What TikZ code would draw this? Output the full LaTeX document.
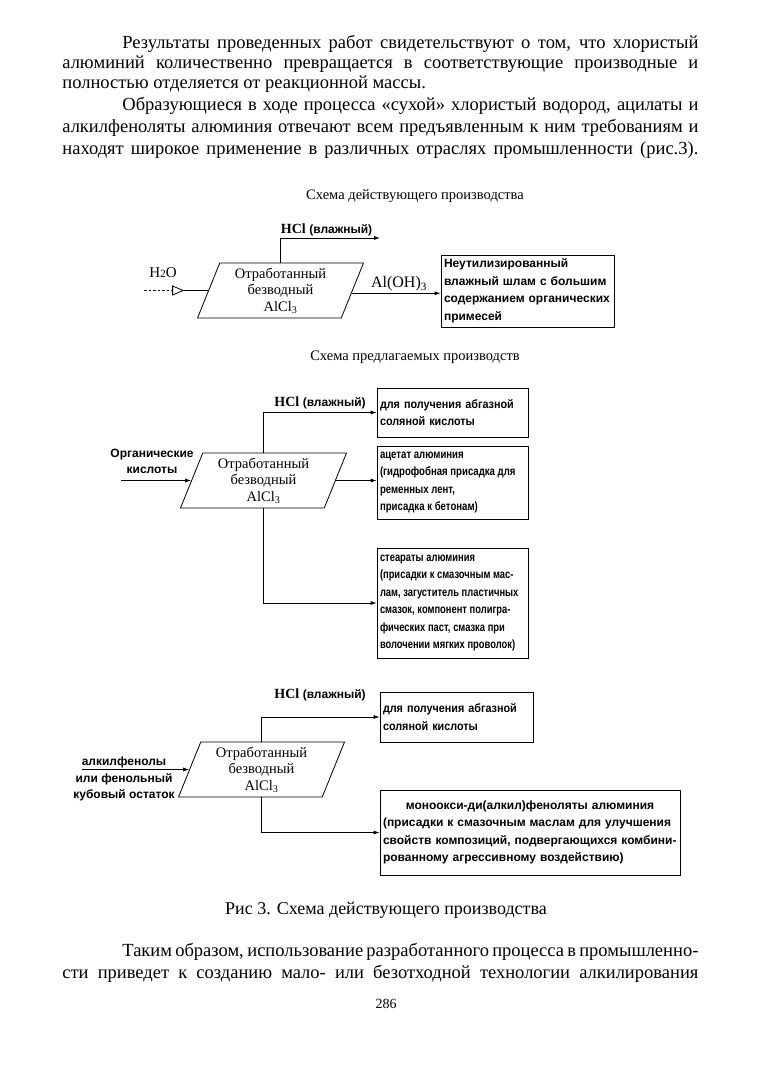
\documentclass[tikz,border=0pt]{standalone}
\usepackage{fontspec}
\setmainfont{Liberation Serif}
\newfontfamily\boxfont{Liberation Sans}
\newfontfamily\boxfonta[FakeStretch=0.9]{Liberation Sans}
\newfontfamily\boxfontn[FakeStretch=0.8]{Liberation Sans}
\newfontfamily\boxfontc[FakeStretch=0.78]{Liberation Sans}
\usetikzlibrary{shapes.geometric,arrows.meta,calc,positioning}
\tikzset{
  bodyline/.style={anchor=base west,inner sep=0pt,font=\fontsize{18.5}{21}\selectfont},
  schemetitle/.style={inner sep=0pt,font=\fontsize{14.5}{17}\selectfont},
  vessel/.style={draw,trapezium,trapezium left angle=64,trapezium right angle=116,
    trapezium stretches body,minimum width=166pt,minimum height=55pt,inner sep=0pt,
    align=center,font=\fontsize{14.5}{16.5}\selectfont},
  product/.style={draw,align=left,inner sep=3pt,font=\boxfont\bfseries\fontsize{12}{17.5}\selectfont},
  feed/.style={align=center,inner sep=0pt,font=\boxfont\bfseries\fontsize{12}{16.5}\selectfont},
  hcllabel/.style={inner sep=0pt,font=\bfseries\fontsize{14}{16}\selectfont},
  flow/.style={-{Latex[length=6pt,width=4pt]}}
}
\newcommand{\wet}{{\boxfont\fontsize{12}{14}\selectfont(влажный)}}
\newcommand{\narrowgap}{\spaceskip=2.7pt\relax}
\begin{document}
\begin{tikzpicture}[x=1pt,y=-1pt,line width=0.8pt]
  \fill[white] (0,0) rectangle (773,1078);
  \useasboundingbox (0,0) rectangle (773,1078);
  % text above the figure
  \node[bodyline] (l1) at (122,48.5) {\makebox[576pt][s]{Результаты проведенных работ свидетельствуют о том, что хлористый}};
  \node[bodyline] (l2) at (62,68.5) {\makebox[636pt][s]{алюминий количественно превращается в соответствующие производные и}};
  \node[bodyline] (l3) at (62,88.5) {полностью отделяется от реакционной массы.};
  \node[bodyline] (l4) at (122,111) {\makebox[576pt][s]{Образующиеся в ходе процесса «сухой» хлористый водород, ацилаты и}};
  \node[bodyline] (l5) at (62,133) {\makebox[636pt][s]{алкилфеноляты алюминия отвечают всем предъявленным к ним требованиям и}};
  \node[bodyline] (l6) at (62,155) {\makebox[636pt][s]{находят широкое применение в различных отраслях промышленности (рис.3).}};
  % existing plant
  \node[schemetitle] (t1) at (415,196) {Схема действующего производства};
  \node[vessel] (p1) at (280.5,290.5) {Отработанный\\безводный\\AlCl\textsubscript{3}};
  \node[product,text width=167pt,minimum height=72pt] (b1) at (527.5,291)
    {Неутилизированный\\влажный шлам с большим\\содержанием органических\\примесей};
  \coordinate (h2o start) at ([xshift=-64pt]p1.west);
  \coordinate (h2o tip) at ([xshift=-24pt]p1.west);
  \draw[dashed,dash pattern=on 2.5pt off 2pt,-{Triangle[open,length=12pt,width=10pt]}] (h2o start) -- (h2o tip);
  \draw (h2o tip) -- (p1.west);
  \node[inner sep=0pt,font=\fontsize{15}{17}\selectfont] (h2o) at (163,273) {H{\fontsize{11}{11}\selectfont 2}O};
  \coordinate (p1 out) at ($(p1.bottom right corner)!0.45!(p1.top right corner)$);
  \draw[flow] (p1 out) -- (p1 out -| b1.west);
  \node[inner sep=0pt,font=\fontsize{16}{18}\selectfont] (aloh) at (399,284) {Al(OH)\textsubscript{3}};
  \coordinate (hcl1) at (380,238);
  \draw[flow] (p1.north) |- (hcl1);
  \node[hcllabel,anchor=south west] (hcl1 lab) at ([yshift=2pt]p1.north |- hcl1) {HCl \wet};
  % proposed plants
  \node[schemetitle] (t2) at (415,357) {Схема предлагаемых производств};
  \node[vessel] (p2) at (263.5,480.5) {Отработанный\\безводный\\AlCl\textsubscript{3}};
  \node[product,font=\boxfonta\bfseries\fontsize{12}{17.5}\selectfont,text width=145pt,minimum height=49pt] (bA) at (452.5,412.5)
    {для получения абгазной\\соляной кислоты};
  \node[product,font=\boxfontn\bfseries\fontsize{12}{17.5}\selectfont,text width=145pt,minimum height=73pt] (bB) at (452.5,482.5)
    {\narrowgap ацетат алюминия\\(гидрофобная присадка для\\ременных лент,\\присадка к бетонам)};
  \node[product,font=\boxfontc\bfseries\fontsize{12}{17.5}\selectfont,text width=145pt,minimum height=110pt] (bC) at (452.5,603)
    {\narrowgap стеараты алюминия\\(присадки к смазочным мас-\\лам, загуститель пластичных\\смазок, компонент полигра-\\фических паст, смазка при\\волочении мягких проволок)};
  \node[hcllabel] (hcl2) at (320,403) {HCl \wet};
  \node[feed] (acids) at (152,461.5) {Органические\\кислоты};
  \coordinate (acids in) at ([xshift=-70pt]p2.west);
  \draw[flow] (acids in) -- (p2.west);
  \draw[flow] (p2.north) |- (bA.west);
  \draw[flow] (p2.east) -- (p2.east -| bB.west);
  \draw[flow] (p2.south) |- (bC.west);
  \node[vessel] (p3) at (261.5,769.5) {Отработанный\\безводный\\AlCl\textsubscript{3}};
  \node[product,font=\boxfonta\bfseries\fontsize{12}{17.5}\selectfont,text width=147pt,minimum height=50pt] (bD) at (456.5,717)
    {для получения абгазной\\соляной кислоты};
  \node[product,text width=294pt,minimum height=85pt] (bE) at (530,832.5)
    {\makebox[\linewidth][c]{моноокси-ди(алкил)феноляты алюминия}\\(присадки к смазочным маслам для улучшения\\свойств композиций, подвергающихся комбини-\\рованному агрессивному воздействию)};
  \node[hcllabel] (hcl3) at (320,695) {HCl \wet};
  \node[feed] (phenols) at (124,779) {алкилфенолы\\или фенольный\\кубовый остаток};
  \coordinate (phenols in) at ([xshift=-107pt]p3.west);
  \draw[flow] (phenols in) -- (p3.west);
  \draw[flow] (p3.north) |- (bD.west);
  \draw[flow] (p3.south) |- (bE.west);
  % caption and text below
  \node[inner sep=0pt,font=\fontsize{18}{20}\selectfont] (caption) at (386,910) {Рис 3. Схема действующего производства};
  \node[bodyline] (l7) at (122,956) {\makebox[576pt][s]{Таким образом, использование разработанного процесса в промышленно-}};
  \node[bodyline] (l8) at (62,978) {\makebox[636pt][s]{сти приведет к созданию мало- или безотходной технологии алкилирования}};
  \node[inner sep=0pt,font=\fontsize{14}{16}\selectfont] (pagenum) at (386,1004) {286};
\end{tikzpicture}
\end{document}
